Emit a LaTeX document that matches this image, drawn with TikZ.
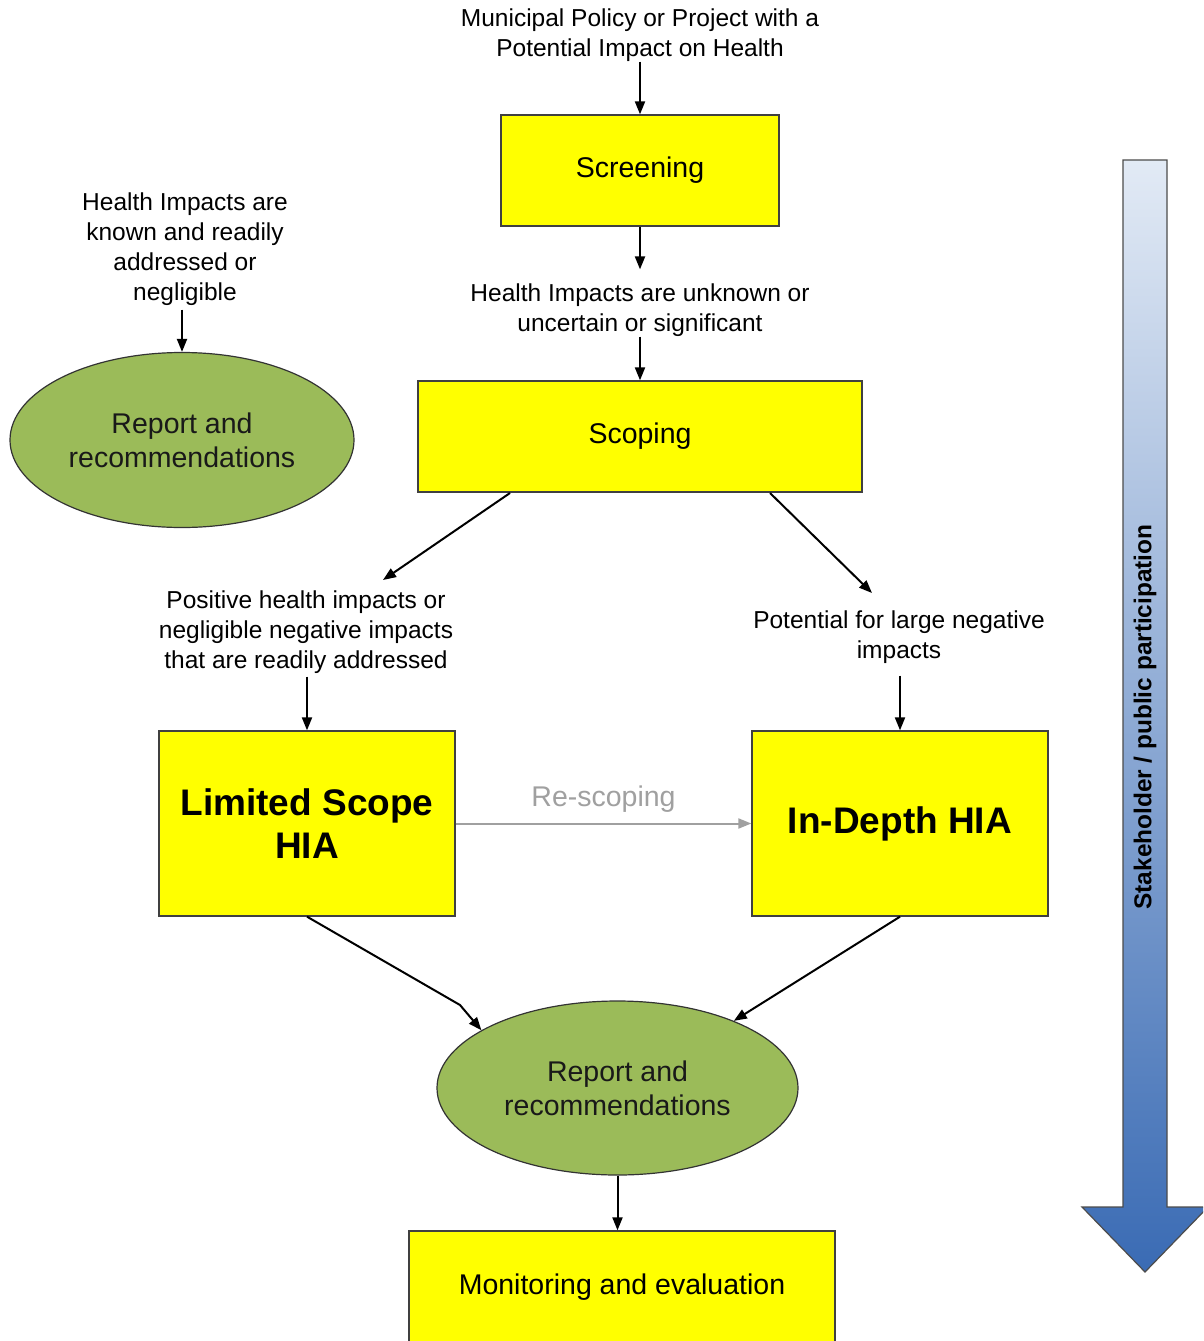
\documentclass[tikz,border=0pt]{standalone}
\usepackage{fontspec}
\setmainfont{Liberation Sans}
\usetikzlibrary{shapes.geometric,arrows.meta}
\definecolor{boxyellow}{HTML}{FFFF00}
\definecolor{ovalgreen}{HTML}{9BBB59}
\definecolor{edgegray}{HTML}{404040}
\definecolor{rescope}{HTML}{A0A0A0}
\definecolor{flowtop}{HTML}{E2EAF5}
\definecolor{flowbot}{HTML}{3A6BB4}
\tikzset{
  stepbox/.style={rectangle, draw=edgegray, line width=1.3pt, fill=boxyellow,
    inner sep=0pt, align=center, font=\fontsize{28.5}{34}\selectfont},
  bigbox/.style={stepbox, font=\fontsize{37}{43}\selectfont\bfseries},
  oval/.style={ellipse, draw=black!80, line width=1.2pt, fill=ovalgreen,
    inner sep=0pt, align=center, text=black!90,
    font=\fontsize{28.5}{34}\selectfont},
  note/.style={align=center, inner sep=0pt, font=\fontsize{24.5}{30}\selectfont},
  conn/.style={line width=2pt, -{Triangle[length=13pt,width=10pt]}},
}
\begin{document}
\begin{tikzpicture}[x=1pt,y=-1pt]
\clip (0,0) rectangle (1203,1341);
\fill[white] (0,0) rectangle (1203,1341);

% participation arrow along the right edge
\shadedraw[top color=flowtop, bottom color=flowbot, draw=black!70, line width=1.2pt]
  (1123,160) -- (1167,160) -- (1167,1207) -- (1208,1207) -- (1145,1272)
  -- (1082,1207) -- (1123,1207) -- cycle;
\node[rotate=90, font=\fontsize{24.4}{30}\selectfont\bfseries, inner sep=0pt]
  (particip) at (1145,717) {Stakeholder / public participation};

% main flow
\node[note] (policy) at (640,35) {Municipal Policy or Project with a\\Potential Impact on Health};
\node[stepbox, minimum width=278pt, minimum height=111pt] (screen) at (640,170.5) {Screening};
\node[note] (unknown) at (640,310) {Health Impacts are unknown or\\uncertain or significant};
\node[stepbox, minimum width=444pt, minimum height=111pt] (scoping) at (640,436.5) {Scoping};

\node[note] (known) at (185,249) {Health Impacts are\\known and readily\\addressed or\\negligible};
\node[oval, minimum width=344pt, minimum height=175pt] (report1) at (182,440) {Report and\\recommendations};

\node[note] (positive) at (306,632) {Positive health impacts or\\negligible negative impacts\\that are readily addressed};
\node[note] (potential) at (899,637) {Potential for large negative\\impacts};

\node[bigbox, minimum width=296pt, minimum height=185pt] (limited) at (307,823.5) {Limited Scope\\HIA};
\node[bigbox, minimum width=296pt, minimum height=185pt] (indepth) at (900,823.5) {In-Depth HIA};

\node[oval, minimum width=361pt, minimum height=174pt] (report2) at (617.5,1088) {Report and\\recommendations};
\node[stepbox, minimum width=426pt, minimum height=112pt] (monitor) at (622,1287) {Monitoring and evaluation};

% arrow end points around the scoping split
\coordinate (scopeL) at (510,493);
\coordinate (scopeR) at (770,493);
\coordinate (posTip) at (383,580);
\coordinate (potTip) at (872,593);
\coordinate (bendL) at (460,1005);

% connectors
\draw[conn] (policy.south) -- (screen.north);
\draw[conn] (screen.south) -- ([yshift=14pt]unknown.north);
\draw[conn] (unknown.south) -- (scoping.north);
\draw[conn] ([yshift=-4pt]report1.north |- known.south) -- (report1.north);
\draw[conn] (scopeL) -- (posTip);
\draw[conn] (scopeR) -- (potTip);
\draw[conn] ([yshift=-3pt]limited.north |- positive.south) -- (limited.north);
\draw[conn] ([yshift=-12pt]indepth.north |- potential.south) -- (indepth.north);
\draw[line width=2pt, draw=rescope, -{Triangle[length=13pt,width=10pt]}]
  (limited.east) -- node[above=7pt, text=rescope, font=\fontsize{28.5}{34}\selectfont] {Re-scoping} (indepth.west);
\draw[conn] (limited.south) -- (bendL) -- (report2.157);
\draw[conn] (indepth.south) -- (report2.30);
\draw[conn] (report2.south) -- (report2.south |- monitor.north);
\end{tikzpicture}
\end{document}
